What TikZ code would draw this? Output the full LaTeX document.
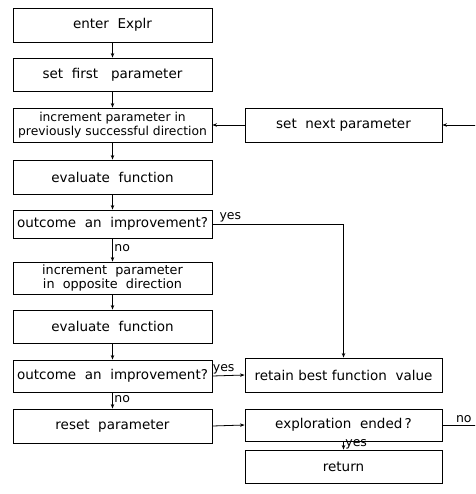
\documentclass[tikz,border=0pt]{standalone}
\usepackage{fontspec}
\setmainfont{DejaVu Sans}
\usetikzlibrary{arrows.meta,positioning}

\begin{document}
\begin{tikzpicture}[
  x=1pt,y=-1pt,
  stepbox/.style={draw=black,line width=0.9pt,minimum width=199pt,minimum height=34pt,align=center,font=\fontsize{13.5}{15}\selectfont,inner sep=1pt},
  testbox/.style={stepbox,minimum height=28pt},
  arr/.style={-{Stealth[length=4.5pt,width=3.5pt]},draw=black,line width=0.8pt},
  lbl/.style={font=\fontsize{12.5}{13}\selectfont,inner sep=1.5pt}
]
\clip (0,0) rectangle (475,494);
% left column
\node[stepbox] (enter) at (112.5,25) {enter\ \ Explr};
\node[stepbox,minimum height=33pt] (first) at (112.5,74.5) {set\ \ first\ \ \ parameter};
\node[stepbox,font=\fontsize{12.3}{14}\selectfont] (incr) at (112.5,125) {increment parameter in\\previously successful direction};
\node[stepbox] (eval) at (112.5,177) {evaluate\ \ function};
\node[testbox] (better) at (112.5,224) {outcome\ \ an\ \ improvement?};
\node[stepbox,minimum height=32pt,font=\fontsize{12.8}{14}\selectfont] (oppo) at (112.5,278) {increment\ \ parameter\\in\ \ opposite\ \ direction};
\node[stepbox,minimum height=33pt] (evaltwo) at (112.5,326.5) {evaluate\ \ function};
\node[stepbox,minimum height=32pt] (bettertwo) at (112.5,376) {outcome\ \ an\ \ improvement?};
\node[stepbox] (reset) at (112.5,426) {reset\ \ parameter};
% right column
\node[stepbox,minimum width=197pt] (next) at (343.5,125) {set\ \ next\ parameter};
\node[stepbox,minimum width=197pt] (retain) at (343.5,375) {retain best function\ \ value};
\node[stepbox,minimum width=197pt,minimum height=32pt] (ended) at (343.5,425) {exploration\ \ ended\,?};
\node[stepbox,minimum width=197pt,minimum height=33pt] (return) at (343.5,466.5) {return};
\coordinate (loopbot) at (478,425);
\coordinate (looptop) at (478,125);
% connectors
\draw[arr] (enter) -- (first);
\draw[arr] (first) -- (incr);
\draw[arr] (incr) -- (eval);
\draw[arr] (eval) -- (better);
\draw[arr] (better) -- node[lbl,right,pos=0.4]{no} (oppo);
\draw[arr] (oppo) -- (evaltwo);
\draw[arr] (evaltwo) -- (bettertwo);
\draw[arr] (bettertwo) -- node[lbl,right,pos=0.4]{no} (reset);
\draw[arr] (better.east) -| node[lbl,above right,pos=0.02]{yes} (retain.north);
\draw[arr] (bettertwo.east) -- node[lbl,above,pos=0.35]{yes} (retain.west);
\draw[arr] (reset.east) -- (ended.west);
\draw[arr] (ended) -- node[lbl,right,pos=0.35]{yes} (return);
\draw[line width=0.8pt] (ended.east) -- node[lbl,above,pos=0.6]{no} (loopbot) -- (looptop);
\draw[arr] (looptop) -- (next.east);
\draw[arr] (next.west) -- (incr.east);
\end{tikzpicture}
\end{document}
